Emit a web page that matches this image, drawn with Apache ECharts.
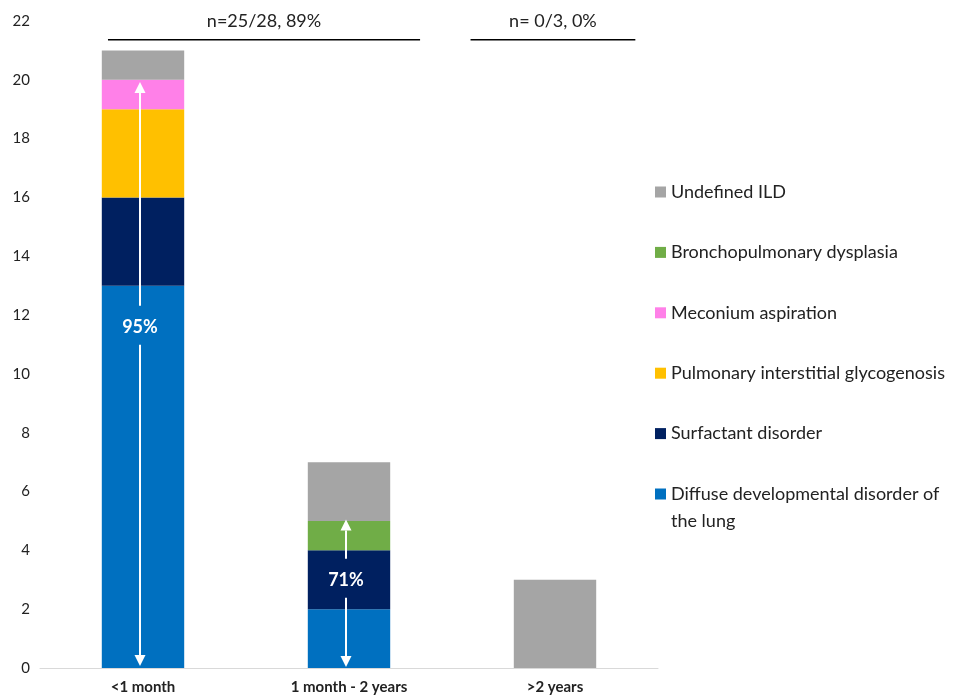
<!DOCTYPE html>
<html>
<head>
<meta charset="utf-8">
<script src="https://cdn.jsdelivr.net/npm/echarts@6/dist/echarts.min.js"></script>
<style>
html,body{margin:0;padding:0;background:#fff;}
#main{width:959px;height:699px;}
</style>
</head>
<body>
<div id="main"></div>
<script>
// ---- Data ----
const categories = ['<1 month', '1 month - 2 years', '>2 years'];
const diffuse     = [13, 2, 0];
const surfactant  = [3, 2, 0];
const pig         = [3, 0, 0];
const meconium    = [1, 0, 0];
const bpd         = [0, 1, 0];
const undefinedILD = [1, 2, 3];
const yTicks = [0, 2, 4, 6, 8, 10, 12, 14, 16, 18, 20, 22];
const seriesNames = ['Diffuse developmental disorder of the lung', 'Surfactant disorder',
  'Pulmonary interstitial glycogenosis', 'Meconium aspiration', 'Bronchopulmonary dysplasia', 'Undefined ILD'];
const bracketTexts = ['n=25/28, 89%', 'n= 0/3, 0%'];
const bracketSpans = [[-0.17, 1.345], [1.59, 2.39]]; // in category units
const bracketLevel = 21.36;
const bracketTextLevel = 22.0;
const arrowCats = [0, 1];
const arrowFrom = [0.07, 0.03];
const arrowTo = [19.93, 5.05];
const arrowLabels = ['95%', '71%'];
const arrowLabelAt = [11.6, 3.0];

const colors = ['#0070C0', '#002060', '#FFC000', '#FF80E8', '#70AD47', '#A5A5A5'];
const FONT = 'Lato';

const chart = echarts.init(document.getElementById('main'), null, {renderer: 'canvas'});
const valuesList = [diffuse, surfactant, pig, meconium, bpd, undefinedILD];

const series = seriesNames.map((n, i) => ({
  name: n,
  type: 'bar',
  stack: 'total',
  barWidth: '40%',
  itemStyle: {color: colors[i]},
  data: valuesList[i].map(v => v === 0 ? null : v)
}));

const option = {
  animation: false,
  textStyle: {fontFamily: FONT},
  grid: {left: 40, right: 301, top: 21, bottom: 31, containLabel: false},
  xAxis: {
    type: 'category',
    data: categories,
    axisLine: {show: true, lineStyle: {color: '#D9D9D9', width: 1}},
    axisTick: {show: false},
    axisLabel: {color: '#222', fontSize: 15, fontWeight: 'bold', fontFamily: FONT, margin: 12}
  },
  yAxis: {
    type: 'value',
    min: 0, max: 22, interval: 2,
    axisLine: {show: false},
    axisTick: {show: false},
    splitLine: {show: false},
    axisLabel: {color: '#222', fontSize: 15, fontFamily: FONT, margin: 10,
      formatter: v => yTicks.includes(v) ? String(v) : ''}
  },
  legend: [{
    orient: 'vertical',
    left: 650,
    top: 177,
    itemWidth: 11, itemHeight: 11,
    itemGap: 40.4,
    icon: 'rect',
    textStyle: {fontSize: 18, color: '#222', fontFamily: FONT, lineHeight: 20},
    data: seriesNames.slice(1).reverse()
  }, {
    orient: 'vertical',
    left: 650,
    top: 494 - 40.5 - 5,
    itemWidth: 11, itemHeight: 11,
    icon: 'rect',
    textStyle: {fontSize: 18, color: '#222', fontFamily: FONT, lineHeight: 27},
    formatter: () => ' \nDiffuse developmental disorder of\nthe lung',
    data: [seriesNames[0]]
  }],
  series: series
};
chart.setOption(option);

function px(cat, val) { return chart.convertToPixel({xAxisIndex: 0, yAxisIndex: 0}, [cat, val]); }
const c0 = px(0, 0), c1 = px(1, 0);
const band = c1[0] - c0[0];
const g = [];
bracketTexts.forEach((t, i) => {
  const xa = c0[0] + bracketSpans[i][0] * band;
  const xb = c0[0] + bracketSpans[i][1] * band;
  const y = px(0, bracketLevel)[1];
  const yt = px(0, bracketTextLevel)[1];
  g.push({type: 'line', z: 100, shape: {x1: xa, y1: y, x2: xb, y2: y}, style: {stroke: '#000', lineWidth: 1.5}});
  g.push({type: 'text', z: 100, x: (xa + xb) / 2, y: yt, style: {text: t, align: 'center', verticalAlign: 'middle',
    fontSize: 18, fontFamily: FONT, fill: '#222'}});
});
arrowCats.forEach((ci, i) => {
  const p = px(ci, 0);
  const x = p[0] - 3;
  const yb = px(ci, arrowFrom[i])[1];
  const yt = px(ci, arrowTo[i])[1];
  const yl = px(ci, arrowLabelAt[i])[1];
  const head = 11, hw = 5.5;
  g.push({type: 'line', z: 100, shape: {x1: x, y1: yt + head, x2: x, y2: yl - 21}, style: {stroke: '#fff', lineWidth: 2}});
  g.push({type: 'line', z: 100, shape: {x1: x, y1: yl + 18, x2: x, y2: yb - head}, style: {stroke: '#fff', lineWidth: 2}});
  g.push({type: 'polygon', z: 100, shape: {points: [[x, yt], [x - hw, yt + head], [x + hw, yt + head]]}, style: {fill: '#fff'}});
  g.push({type: 'polygon', z: 100, shape: {points: [[x, yb], [x - hw, yb - head], [x + hw, yb - head]]}, style: {fill: '#fff'}});
  g.push({type: 'text', z: 100, x: x, y: yl, style: {text: arrowLabels[i], align: 'center', verticalAlign: 'middle',
    fontSize: 18, fontWeight: 'bold', fontFamily: FONT, fill: '#fff'}});
});
chart.setOption({graphic: {elements: g}});
</script>
</body>
</html>
